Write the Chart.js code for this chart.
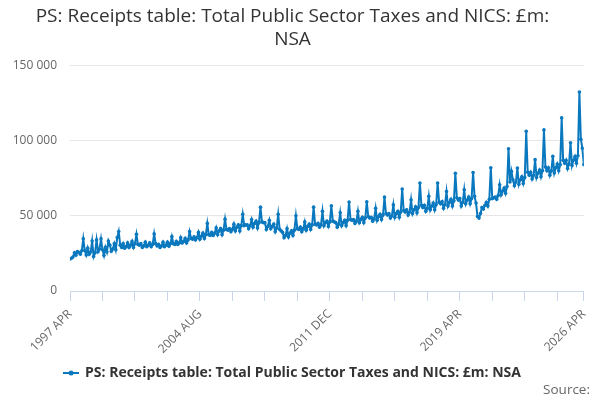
<!DOCTYPE html>
<html>
<head>
<meta charset="utf-8">
<script src="https://cdn.jsdelivr.net/npm/chart.js@4"></script>
<style>
  html, body { margin: 0; padding: 0; background: #fff; }
  #wrap { position: relative; width: 600px; height: 400px; }
  #source { position: absolute; right: 10px; top: 380px; font: 13.5px "Open Sans", sans-serif; color: #666; }
</style>
</head>
<body>
<div id="wrap">
  <canvas id="chart" width="600" height="400"></canvas>
  <div id="source">Source:</div>
</div>
<script>
const seriesName = "PS: Receipts table: Total Public Sector Taxes and NICS: £m: NSA";

// monthly values, Apr .. Mar per row
const values1997to2001 = [
  21300, 21800, 22600, 25500, 23800, 26200, 25800, 24500, 26800, 34700, 27000, 24000,
  28500, 24500, 26000, 33300, 22900, 25500, 34000, 26200, 28000, 34700, 27500, 23600,
  29000, 26000, 33300, 30500, 26500, 28000, 31500, 27500, 35600, 39600, 30500, 29000,
  31500, 28500, 29500, 32000, 29000, 30500, 33000, 29000, 31500, 37800, 31000, 30500,
  31500, 29000, 30000, 32500, 29500, 30500, 32000, 29500, 31000, 38000, 31500, 30000
];
const values2002to2006 = [
  31000, 29000, 30000, 32500, 29500, 30500, 32500, 29800, 31500, 36200, 31500, 31000,
  33000, 31000, 32000, 35500, 32000, 33000, 35000, 32000, 34000, 39500, 35000, 34500,
  36000, 34000, 35500, 39000, 34500, 36500, 38500, 35000, 37500, 45000, 37500, 37000,
  39000, 37000, 38500, 42000, 37500, 40000, 41500, 37500, 40500, 47800, 41000, 40500,
  41500, 39500, 41000, 44500, 40000, 42500, 44000, 40000, 43500, 51100, 43500, 44000
];
const values2007to2011 = [
  44000, 41500, 43500, 47500, 42500, 45000, 46500, 42000, 45500, 55800, 46000, 45500,
  45500, 41000, 43000, 47000, 41500, 43000, 44500, 39500, 42000, 51100, 41000, 40000,
  39000, 35500, 37000, 41500, 36000, 38500, 40000, 37000, 40500, 50000, 41500, 41000,
  42500, 39500, 41500, 46000, 40500, 43000, 44500, 41000, 44000, 55800, 44500, 44000,
  45000, 42500, 44000, 53000, 43500, 45500, 46500, 43000, 46000, 56700, 46500, 46000
];
const values2012to2016 = [
  45500, 42500, 44500, 52000, 43500, 45500, 47000, 43500, 47000, 59200, 47500, 47000,
  47500, 45000, 46500, 53000, 45500, 47500, 49000, 45500, 48500, 59400, 49500, 48500,
  49000, 46500, 48000, 55000, 47000, 49500, 51000, 47500, 50500, 62500, 51500, 50500,
  51500, 48500, 50000, 57300, 49000, 51500, 53000, 49000, 52500, 67800, 53500, 52500,
  54000, 50500, 52500, 60700, 51500, 54000, 56000, 52000, 55500, 71800, 57000, 55500
];
const values2017to2021 = [
  57000, 53000, 55000, 63000, 54000, 56500, 58500, 54000, 57500, 71800, 59000, 58000,
  59500, 55000, 57500, 66200, 56500, 59000, 61000, 56500, 60000, 78300, 62000, 60500,
  61500, 56500, 59000, 67400, 58000, 60500, 62500, 58000, 61500, 78800, 63000, 58500,
  49500, 48500, 51500, 55500, 54500, 57000, 59000, 56500, 61000, 82000, 61500, 62000,
  62500, 61000, 63500, 70700, 64000, 66500, 68500, 65000, 69500, 94600, 72500, 79600
];
const values2022to2026 = [
  74000, 70000, 72500, 81800, 71000, 74000, 76000, 71500, 75500, 106300, 79000, 77000,
  79000, 74500, 77000, 87400, 75500, 78500, 80500, 76000, 80000, 107200, 82500, 80000,
  82000, 77000, 80000, 89600, 78500, 82000, 84500, 80000, 84000, 115300, 87000, 85000,
  87000, 81500, 84500, 98600, 83500, 87000, 89500, 85000, 90000, 132400, 101000, 95000,
  84000
];

const receipts = [].concat(values1997to2001, values2002to2006, values2007to2011,
  values2012to2016, values2017to2021, values2022to2026);

// categories: one per month from 1997 APR
const monthNames = ["JAN","FEB","MAR","APR","MAY","JUN","JUL","AUG","SEP","OCT","NOV","DEC"];
const months = receipts.map((v, i) => (1997 + Math.floor((3 + i) / 12)) + " " + monthNames[(3 + i) % 12]);

const tickLabels = ["1997 APR", "2004 AUG", "2011 DEC", "2019 APR", "2026 APR"];
const yTicks = [0, 50000, 100000, 150000];
const tickEvery = 22;

const labelIdx = tickLabels.map(l => months.indexOf(l));
const tickIdx = [];
for (let i = 0; i < months.length - 1; i += tickEvery) tickIdx.push(i);
tickIdx.push(months.length - 1);

const blue = "#0a78be";

// legend symbol: short line with a dot
const sym = document.createElement("canvas");
sym.width = 16; sym.height = 8;
const sc = sym.getContext("2d");
sc.strokeStyle = blue; sc.lineWidth = 2;
sc.beginPath(); sc.moveTo(0, 4); sc.lineTo(16, 4); sc.stroke();
sc.fillStyle = blue;
sc.beginPath(); sc.arc(8, 4, 2.5, 0, Math.PI * 2); sc.fill();

const fmt = v => String(v).replace(/\B(?=(\d{3})+(?!\d))/g, " ");

new Chart(document.getElementById("chart"), {
  type: "line",
  data: {
    datasets: [{
      label: seriesName,
      data: receipts.map((v, i) => ({ x: i, y: v })),
      borderColor: blue,
      backgroundColor: blue,
      borderWidth: 2,
      pointRadius: 1.8,
      pointBorderWidth: 0,
      pointBackgroundColor: blue,
      pointStyle: "circle",
      tension: 0
    }]
  },
  options: {
    responsive: false,
    animation: false,
    layout: { padding: { left: 0, right: 15, top: 0, bottom: 10 } },
    plugins: {
      title: {
        display: true,
        text: ["PS: Receipts table: Total Public Sector Taxes and NICS: £m:", "NSA"],
        color: "#333",
        font: { family: "Open Sans", size: 19, weight: "normal", lineHeight: 1.2 },
        padding: { top: 5, bottom: 15 }
      },
      legend: {
        position: "bottom",
        labels: {
          usePointStyle: true,
          pointStyle: sym,
          color: "#333",
          font: { family: "Open Sans", size: 14, weight: "bold" },
          padding: 9
        }
      },
      tooltip: { enabled: false }
    },
    scales: {
      x: {
        type: "linear",
        min: 0,
        max: months.length - 1,
        afterBuildTicks: s => { s.ticks = tickIdx.map(v => ({ value: v })); },
        afterFit: s => { s.height = 66; },
        ticks: {
          autoSkip: false,
          minRotation: 45,
          maxRotation: 45,
          color: "#666",
          font: { family: "Open Sans", size: 12 },
          padding: 6,
          callback: v => labelIdx.includes(v) ? months[v] : ""
        },
        grid: { drawOnChartArea: false, drawTicks: true, tickLength: 10, color: "#ccd6eb" },
        border: { display: true, color: "#ccd6eb" }
      },
      y: {
        min: 0,
        max: 150000,
        afterBuildTicks: s => { s.ticks = yTicks.map(v => ({ value: v })); },
        afterFit: s => { s.width = 70; },
        ticks: {
          color: "#666",
          font: { family: "Open Sans", size: 12 },
          padding: 13,
          callback: v => fmt(v)
        },
        grid: { color: "#e6e6e6", drawTicks: false },
        border: { display: false }
      }
    }
  }
});
</script>
</body>
</html>
